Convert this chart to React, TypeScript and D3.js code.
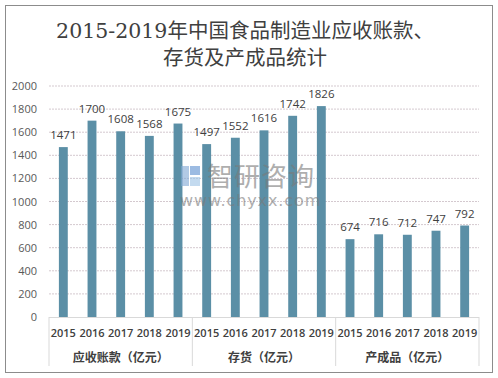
import React from "react";
import * as d3 from "d3";

const groups = ["应收账款（亿元）", "存货（亿元）", "产成品（亿元）"];
const years = ["2015", "2016", "2017", "2018", "2019"];
const receivables = [1471, 1700, 1608, 1568, 1675];
const inventory = [1497, 1552, 1616, 1742, 1826];
const finishedGoods = [674, 716, 712, 747, 792];
const yTicks = [0, 200, 400, 600, 800, 1000, 1200, 1400, 1600, 1800, 2000];
const titleLines = ["2015-2019年中国食品制造业应收账款、", "存货及产成品统计"];

const W = 498, H = 378;
const plotL = 49, plotR = 479, plotT = 86, plotB = 317;

export default function App() {
  const series = [receivables, inventory, finishedGoods];
  const items = series.flatMap((vals, gi) =>
    vals.map((v, i) => ({ key: `${gi}-${i}`, g: gi, year: years[i], value: v }))
  );
  const x = d3.scaleBand<string>().domain(items.map(d => d.key)).range([plotL, plotR]).paddingInner(0.69).paddingOuter(0.345);
  const y = d3.scaleLinear().domain([0, 2000]).range([plotB, plotT]);
  const step = (plotR - plotL) / items.length;
  const font = "'Open Sans', 'Noto Sans CJK SC', sans-serif";
  return (
    <svg width={W} height={H} style={{ position: "absolute", left: 0, top: 0, background: "#fff" }}>
      <rect x={5.5} y={5.5} width={487} height={367} fill="#fff" stroke="#8c8c8c" strokeWidth={1} />
      {titleLines.map((t, i) => (
        <text key={i} x={245} y={38 + i * 27} textAnchor="middle" fontSize={20.5} fill="#404040"
          style={{ fontFamily: "'DejaVu Serif', 'Noto Sans CJK SC', serif" }}>
          {t}
        </text>
      ))}
      {yTicks.map(t => (
        <g key={t}>
          {t > 0 && <line x1={plotL} x2={plotR} y1={y(t)} y2={y(t)} stroke="#d4c9cf" strokeWidth={1} strokeDasharray="2,1" />}
          <text x={37} y={y(t) + 4} textAnchor="end" fontSize={11} fill="#595959" fontFamily={font}>{t}</text>
        </g>
      ))}
      {items.map(d => (
        <g key={d.key}>
          <rect x={x(d.key)} y={y(d.value)} width={x.bandwidth()} height={plotB - y(d.value)} fill="#5b8fa6" />
          <text x={(x(d.key) as number) + x.bandwidth() / 2} y={y(d.value) - 8} textAnchor="middle" fontSize={11.5} fill="#404040" fontFamily={font}>{d.value}</text>
        </g>
      ))}
      {/* watermark */}
      <g opacity={0.6}>
        <rect x={181} y={166} width={8} height={20} fill="#7fa8d4" />
        <rect x={190} y={166} width={10} height={9} fill="#5b8fd0" />
        <rect x={190} y={177} width={10} height={9} fill="#9cc3e6" />
        <text x={207} y={186} fontSize={26} fill="#7a7a7a" letterSpacing={1} fontFamily="'Noto Sans CJK SC', sans-serif">智研咨询</text>
        <text x={180} y={206} fontSize={16} fill="#7a7a7a" letterSpacing={0.9} fontFamily="'DejaVu Sans', sans-serif">www.chyxx.com</text>
      </g>
      <line x1={plotL} x2={plotR} y1={plotB + 0.5} y2={plotB + 0.5} stroke="#d9d9d9" />
      {[0, 1, 2, 3].map(i => (
        <line key={i} x1={plotL + i * step * 5} x2={plotL + i * step * 5} y1={plotB} y2={366} stroke="#d9d9d9" />
      ))}
      {items.map(d => (
        <text key={"y" + d.key} x={(x(d.key) as number) + x.bandwidth() / 2} y={337} textAnchor="middle" fontSize={11} fontWeight={600} fill="#404040" fontFamily={font}>{d.year}</text>
      ))}
      {groups.map((g, i) => (
        <text key={g} x={plotL + (i + 0.5) * step * 5} y={362} textAnchor="middle" fontSize={12} fontWeight="bold" fill="#404040" fontFamily="'Noto Sans CJK SC', sans-serif">{g}</text>
      ))}
    </svg>
  );
}
